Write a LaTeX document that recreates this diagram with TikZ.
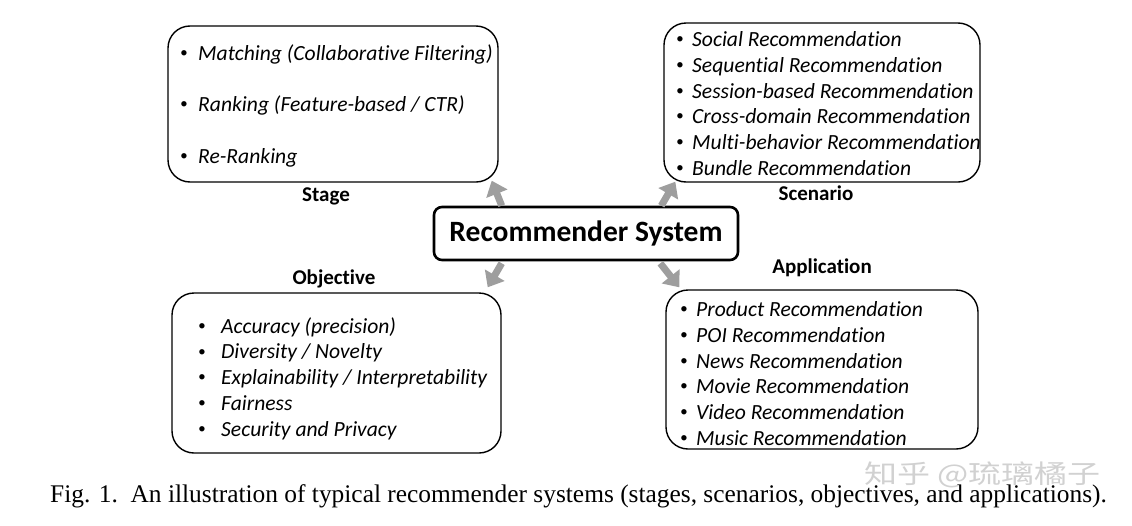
\documentclass[tikz,border=0pt]{standalone}
\usepackage{fontspec}
\setmainfont{Carlito}[Ligatures=NoCommon]
\newfontfamily\capfont{Liberation Serif}
\newfontfamily\cjkfont{Noto Sans CJK SC}
\usetikzlibrary{positioning, calc, arrows.meta}

\newcommand{\bitem}[2][16pt]{\makebox[#1][l]{\raisebox{0.13em}{\scalebox{0.7}{\textbullet}}}#2}

\tikzset{
    groupbox/.style={draw, line width=1.4pt, rounded corners=22pt, inner sep=0pt},
    itemlist/.style={anchor=west, align=left, inner sep=0pt,
        font=\fontsize{21.6}{25.7}\selectfont\itshape},
    grouplabel/.style={font=\fontsize{21}{24}\selectfont\bfseries},
    bigarrow/.style={line width=7pt, color=black!38,
        -{Triangle[width=22pt,length=14pt]}},
}

\begin{document}
\begin{tikzpicture}[x=1pt, y=-1pt]
    \useasboundingbox (0,0) rectangle (1132,525);

    % the four groups
    \node[groupbox, minimum width=330pt, minimum height=156pt] (stage) at (333,104) {};
    \node[groupbox, minimum width=316pt, minimum height=159pt] (scenario) at (822,102.5) {};
    \node[groupbox, minimum width=329pt, minimum height=160pt] (objective) at (336.5,373) {};
    \node[groupbox, minimum width=312pt, minimum height=159pt] (application) at (822,369.5) {};

    \node[itemlist, font=\fontsize{21.6}{51.5}\selectfont\itshape] (stagelist) at (180,105.5) {%
        \bitem[18pt]{Matching (Collaborative Filtering)}\\
        \bitem[18pt]{Ranking (Feature-based / CTR)}\\
        \bitem[18pt]{Re-Ranking}};
    \node[itemlist] (scenariolist) at (676,103.5) {%
        \bitem{Social Recommendation}\\
        \bitem{Sequential Recommendation}\\
        \bitem{Session-based Recommendation}\\
        \bitem{Cross-domain Recommendation}\\
        \bitem{Multi-behavior Recommendation}\\
        \bitem{Bundle Recommendation}};
    \node[itemlist] (objectivelist) at (198,378.5) {%
        \bitem[23pt]{Accuracy (precision)}\\
        \bitem[23pt]{Diversity / Novelty}\\
        \bitem[23pt]{Explainability / Interpretability}\\
        \bitem[23pt]{Fairness}\\
        \bitem[23pt]{Security and Privacy}};
    \node[itemlist] (applicationlist) at (680,373.5) {%
        \bitem{Product Recommendation}\\
        \bitem{POI Recommendation}\\
        \bitem{News Recommendation}\\
        \bitem{Movie Recommendation}\\
        \bitem{Video Recommendation}\\
        \bitem{Music Recommendation}};

    % labels
    \node[grouplabel] (stagelabel) at (326,196) {Stage};
    \node[grouplabel] (scenariolabel) at (816,193) {Scenario};
    \node[grouplabel] (objectivelabel) at (334,279) {Objective};
    \node[grouplabel] (applicationlabel) at (822,268) {Application};

    % centre
    \node[draw, line width=2.6pt, rounded corners=8pt, fill=white,
        minimum width=304pt, minimum height=53pt,
        font=\fontsize{29.5}{33}\selectfont\bfseries] (rs) at (586,233.5) {Recommender System};

    \draw[bigarrow] ($(rs.north west)+(69,0)$) -- ($(stage.south east)+(-7,-2)$);
    \draw[bigarrow] ($(rs.north east)+(-78,0)$) -- ($(scenario.south west)+(12,-1)$);
    \draw[bigarrow] ($(rs.south west)+(69,2)$) -- ($(objective.north east)+(-14,-5)$);
    \draw[bigarrow] ($(rs.south east)+(-79,2)$) -- ($(application.north west)+(14,-2)$);

    % caption and watermark
    \node[anchor=west, inner sep=0pt, font=\capfont\fontsize{25.4}{29}\selectfont] (caption) at (50,496)
        {Fig. 1.\ \ An illustration of typical recommender systems (stages, scenarios, objectives, and applications).};
    \node[anchor=west, inner sep=0pt, text=black!18, font=\cjkfont\fontsize{33}{38}\selectfont] (watermark) at (864,475)
        {\scalebox{1}[0.78]{知乎 @琉璃橘子}};
\end{tikzpicture}
\end{document}
